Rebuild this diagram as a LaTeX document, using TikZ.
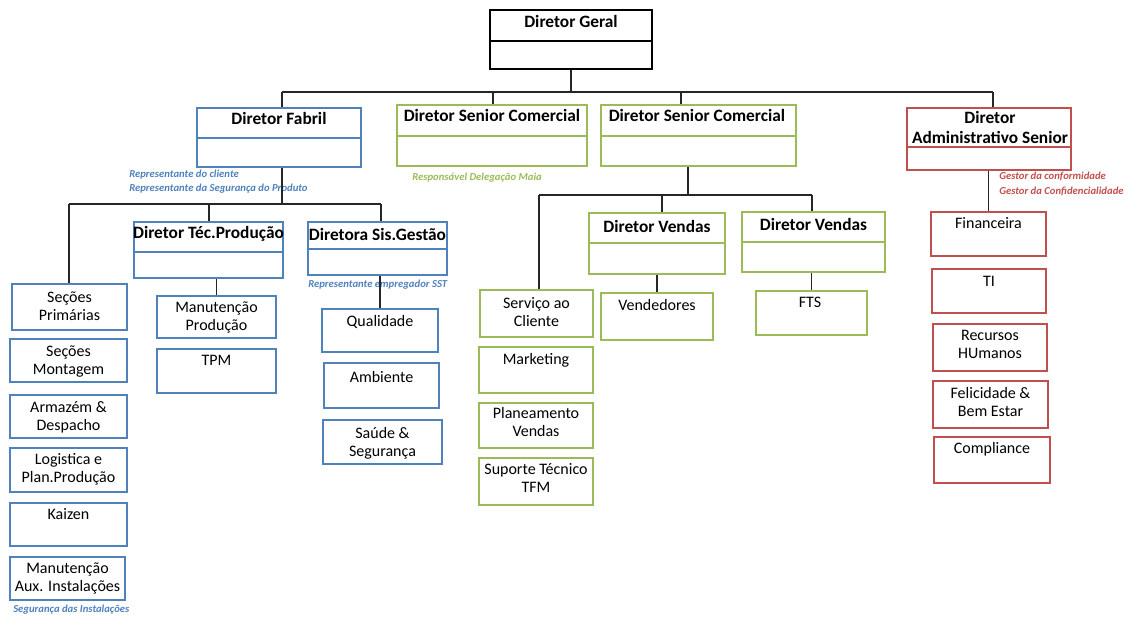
\documentclass[tikz,border=0pt]{standalone}
\usepackage{fontspec}
\setmainfont{Carlito}
\usetikzlibrary{fit}
\definecolor{obl}{HTML}{4F81BD}
\definecolor{ogr}{HTML}{9BBB59}
\definecolor{ord}{HTML}{C0504D}
\newcommand\mkbox[6]{\node[bx=#1, fit={(#3,#4) (#5,#6)}] (#2) {};}
\begin{document}
\begin{tikzpicture}[x=0.75pt,y=-0.75pt,
  bx/.style={draw=#1, line width=1.9pt, inner sep=0pt},
  dv/.style={draw=#1, line width=1.4pt},
  conn/.style={draw=black!85, line width=1.1pt},
  bt/.style={anchor=north, yshift=9.45pt, align=center, inner sep=0pt, font=\fontsize{12}{13.5}\selectfont},
  ht/.style={anchor=north, yshift=10.5pt, align=center, inner sep=0pt, font=\fontsize{13}{15}\selectfont\bfseries},
  note/.style={anchor=base west, inner sep=0pt, font=\fontsize{8}{10}\selectfont\bfseries\itshape, text=#1}]
\useasboundingbox (0,0) rectangle (1132,617);

% ---- header boxes
\mkbox{black}{dg}{490}{10}{652}{69}
\draw[dv=black] (490,41) -- (652,41);
\mkbox{obl}{df}{197}{108}{361}{167}
\draw[dv=obl] (197,138) -- (361,138);
\mkbox{ogr}{dsc1}{397}{105}{587}{166}
\draw[dv=ogr] (397,136) -- (587,136);
\mkbox{ogr}{dsc2}{601}{105}{796}{166}
\draw[dv=ogr] (601,136) -- (796,136);
\mkbox{ord}{da}{907}{108}{1071}{170}
\draw[dv=ord] (907,147) -- (1071,147);
\mkbox{obl}{dtp}{134}{222}{283}{278}
\draw[dv=obl] (134,252) -- (283,252);
\mkbox{obl}{dsg}{308}{222}{447}{275}
\draw[dv=obl] (308,249) -- (447,249);
\mkbox{ogr}{dv1}{589}{213}{725}{274}
\draw[dv=ogr] (589,243) -- (725,243);
\mkbox{ogr}{dv2}{742}{212}{885}{272}
\draw[dv=ogr] (742,242) -- (885,242);

\node[ht] at (571,27.6) {\strut Diretor Geral};
\node[ht] at (279,124.6) {\strut Diretor Fabril};
\node[ht] at (492,121.6) {\strut Diretor Senior Comercial};
\node[ht] at (697,121.6) {\strut Diretor Senior Comercial};
\node[ht] at (990,123.6) {\strut Diretor\\Administrativo Senior};
\node[ht] at (208.5,238.6) {\strut Diretor Téc.Produção};
\node[ht] at (377.5,240.6) {\strut Diretora Sis.Gestão};
\node[ht] at (657,232.6) {\strut Diretor Vendas};
\node[ht] at (813.5,230.6) {\strut Diretor Vendas};

% ---- blue children
\mkbox{obl}{sp}{12}{284}{127}{330}
\mkbox{obl}{sm}{10}{339}{127}{382}
\mkbox{obl}{ad}{10}{395}{127}{438}
\mkbox{obl}{lp}{10}{448}{127}{492}
\mkbox{obl}{kz}{10}{503}{127}{546}
\mkbox{obl}{ma}{10}{557}{125}{600}
\mkbox{obl}{mp}{157}{296}{276}{338}
\mkbox{obl}{tpm}{157}{349}{276}{393}
\mkbox{obl}{ql}{322}{309}{438}{352}
\mkbox{obl}{am}{324}{363}{439}{408}
\mkbox{obl}{ss}{323}{420}{442}{464}
\node[bt] at (69.5,302) {\strut Seções\\Primárias};
\node[bt] at (68.5,356) {\strut Seções\\Montagem};
\node[bt] at (68.5,412) {\strut Armazém \&\\Despacho};
\node[bt] at (68.5,464) {\strut Logistica e\\Plan.Produção};
\node[bt] at (68.5,519) {\strut Kaizen};
\node[bt] at (67.5,573) {\strut Manutenção\\Aux. Instalações};
\node[bt] at (216.5,312) {\strut Manutenção\\Produção};
\node[bt] at (216.5,365) {\strut TPM};
\node[bt] at (380,326) {\strut Qualidade};
\node[bt] at (381.5,382) {\strut Ambiente};
\node[bt] at (382.5,438) {\strut Saúde \&\\Segurança};

% ---- green children
\mkbox{ogr}{sc}{480}{290}{593}{337}
\mkbox{ogr}{mk}{479}{347}{593}{393}
\mkbox{ogr}{pv}{479}{403}{593}{448}
\mkbox{ogr}{st}{479}{458}{593}{505}
\mkbox{ogr}{vd}{601}{293}{713}{340}
\mkbox{ogr}{fts}{756}{291}{867}{335}
\node[bt] at (536.5,308) {\strut Serviço ao\\Cliente};
\node[bt] at (536,364) {\strut Marketing};
\node[bt] at (536,418) {\strut Planeamento\\Vendas};
\node[bt] at (536,474) {\strut Suporte Técnico\\TFM};
\node[bt] at (657,310) {\strut Vendedores};
\node[bt] at (810,307) {\strut FTS};

% ---- red children
\mkbox{ord}{fin}{931}{212}{1046}{256}
\mkbox{ord}{ti}{932}{269}{1046}{313}
\mkbox{ord}{rh}{933}{324}{1047}{371}
\mkbox{ord}{fe}{933}{381}{1048}{428}
\mkbox{ord}{co}{934}{437}{1050}{483}
\node[bt] at (988.5,228) {\strut Financeira};
\node[bt] at (989,286) {\strut TI};
\node[bt] at (990,340) {\strut Recursos\\HUmanos};
\node[bt] at (990.5,398) {\strut Felicidade \&\\Bem Estar};
\node[bt] at (992,453) {\strut Compliance};

% ---- annotations
\node[note=obl] (n1) at (129,177.5) {Representante do cliente};
\node[note=obl] (n2) at (129,191.4) {Representante da Segurança do Produto};
\node[note=ogr] (n3) at (412,180.4) {Responsável Delegação Maia};
\node[note=ord] (n4) at (999,179.4) {Gestor da conformidade};
\node[note=ord] (n5) at (999,194.4) {Gestor da Confidencialidade};
\node[note=obl] (n6) at (308,287.4) {Representante empregador SST};
\node[note=obl] (n7) at (13,612.4) {Segurança das Instalações};

% ---- connectors
\coordinate (t0) at (571,92);
\coordinate (t1) at (282,92);
\coordinate (t2) at (493,92);
\coordinate (t3) at (681,92);
\coordinate (t4) at (993,92);
\draw[conn] (dg.south) -- (t0);
\draw[conn] (t1) -- (t4);
\draw[conn] (t1) -- (t1 |- df.north);
\draw[conn] (t2) -- (t2 |- dsc1.north);
\draw[conn] (t3) -- (t3 |- dsc2.north);
\draw[conn] (t4) -- (t4 |- da.north);

\coordinate (f0) at (282,204);
\coordinate (f1) at (69,204);
\coordinate (f2) at (209,204);
\coordinate (f3) at (381,204);
\draw[conn] (f0 |- df.south) -- (f0);
\draw[conn] (f1) -- (f3);
\draw[conn] (f1) -- (f1 |- sp.north);
\draw[conn] (f2) -- (f2 |- dtp.north);
\draw[conn] (f3) -- (f3 |- dsg.north);
\draw[conn] (mp.north |- dtp.south) -- (mp.north);
\draw[conn] (ql.north |- dsg.south) -- (ql.north);

\coordinate (c0) at (688,195);
\coordinate (c1) at (539,195);
\coordinate (c2) at (662,195);
\coordinate (c3) at (812,195);
\draw[conn] (c0 |- dsc2.south) -- (c0);
\draw[conn] (c1) -- (c3);
\draw[conn] (c1) -- (c1 |- sc.north);
\draw[conn] (c2) -- (c2 |- dv1.north);
\draw[conn] (c3) -- (c3 |- dv2.north);
\draw[conn] (vd.north |- dv1.south) -- (vd.north);
\draw[conn] (fts.north |- dv2.south) -- (fts.north);
\draw[conn] (fin.north |- da.south) -- (fin.north);
\end{tikzpicture}
\end{document}
